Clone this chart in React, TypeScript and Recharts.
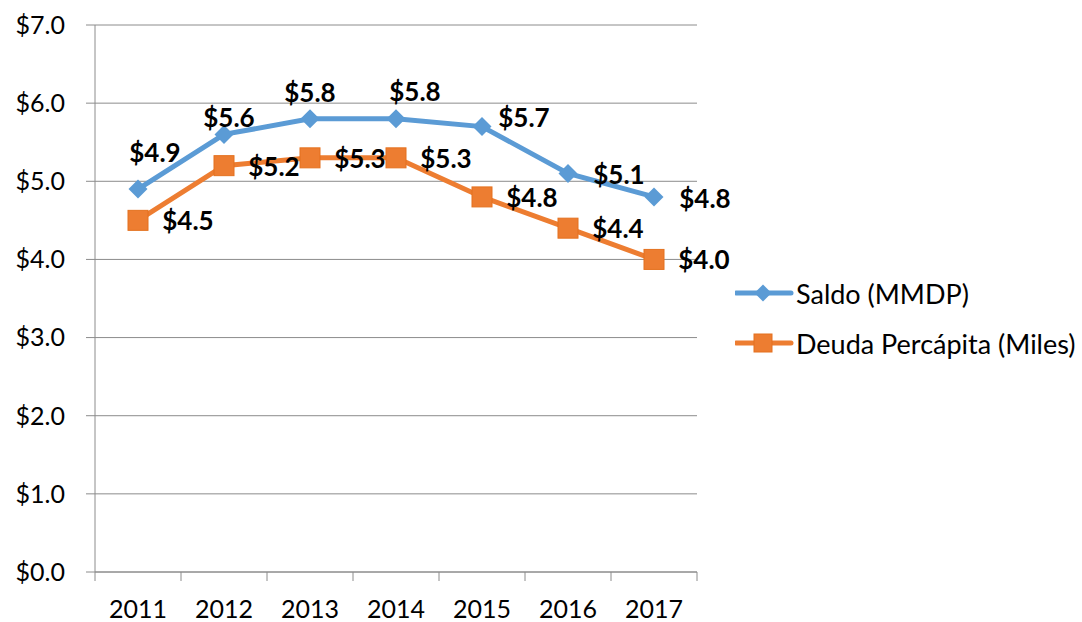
import React from 'react';
import { LineChart, Line, XAxis, YAxis, CartesianGrid, LabelList } from 'recharts';

const years = ['2011', '2012', '2013', '2014', '2015', '2016', '2017'];
const saldo = [4.9, 5.6, 5.8, 5.8, 5.7, 5.1, 4.8];
const deuda = [4.5, 5.2, 5.3, 5.3, 4.8, 4.4, 4.0];
const yTicks = [0, 1, 2, 3, 4, 5, 6, 7];

const seriesNames = { saldo: 'Saldo (MMDP)', deuda: 'Deuda Percápita (Miles)' };

const BLUE = '#5B9BD5';
const ORANGE = '#ED7D31';
const GRID = '#8C8C8C';
const FONT = 'Lato, "Open Sans", sans-serif';

const W = 1082;
const H = 622;
const M = { top: 25, right: 385, left: 0, bottom: 0 };
const Y_W = 95;
const X_H = 50;
const PLOT_BOTTOM = H - M.bottom - X_H;
const band = (W - M.left - Y_W - M.right) / years.length;

// label offsets from each point (label centre), hand placed like the original
const saldoLabelPos = [[17, -37], [5, -17], [0, -27], [19, -28], [42, -10], [51, 1], [51, 1]];
const deudaLabelPos = [50, 0];

const data = years.map((year, i) => ({ year, saldo: saldo[i], deuda: deuda[i] }));

const fmt = (v: number) => '$' + v.toFixed(1);

const Diamond = ({ cx, cy, r = 9.5 }: any) => {
  if (cx == null || cy == null) return null;
  return <polygon points={`${cx},${cy - r} ${cx + r},${cy} ${cx},${cy + r} ${cx - r},${cy}`} fill={BLUE} />;
};

const Square = ({ cx, cy, s = 10 }: any) => {
  if (cx == null || cy == null) return null;
  return <rect x={cx - s} y={cy - s} width={s * 2} height={s * 2} fill={ORANGE} stroke="#E4711F" strokeWidth={1} />;
};

// tick marks sit on the category boundaries, like the original
const XTick = ({ x, payload, index }: any) => (
  <g>
    <line x1={x - band / 2} x2={x - band / 2} y1={PLOT_BOTTOM} y2={PLOT_BOTTOM + 9} stroke={GRID} />
    {index === years.length - 1 && (
      <line x1={x + band / 2} x2={x + band / 2} y1={PLOT_BOTTOM} y2={PLOT_BOTTOM + 9} stroke={GRID} />
    )}
    <text x={x} y={PLOT_BOTTOM + 46} textAnchor="middle" fontSize={25} fontFamily={FONT} fill="#000">
      {payload.value}
    </text>
  </g>
);

const makeLabel = (pos: (i: number) => number[]) => (props: any) => {
  const { x, y, value, index } = props;
  const [dx, dy] = pos(index);
  return (
    <text x={x + dx} y={y + dy} textAnchor="middle" dominantBaseline="central" fontSize={26} fontWeight="bold" fontFamily={FONT} fill="#000">
      {fmt(value)}
    </text>
  );
};

const legendItems = [
  { name: seriesNames.saldo, color: BLUE, marker: 'd' },
  { name: seriesNames.deuda, color: ORANGE, marker: 's' },
];

const LegendBox = () => (
  <div style={{ position: 'absolute', left: 735, top: 268, fontFamily: FONT, fontSize: 27, color: '#000' }}>
    {legendItems.map((it) => (
      <div key={it.name} style={{ display: 'flex', alignItems: 'center', height: 50 }}>
        <svg width={61} height={30} style={{ display: 'block' }}>
          <line x1={1} x2={56} y1={15} y2={15} stroke={it.color} strokeWidth={5} strokeLinecap="round" />
          {it.marker === 'd' ? <Diamond cx={28} cy={15} r={8.5} /> : <Square cx={28} cy={15} s={9} />}
        </svg>
        <span style={{ whiteSpace: 'nowrap' }}>{it.name}</span>
      </div>
    ))}
  </div>
);

export default function App() {
  return (
    <div style={{ position: 'absolute', left: 0, top: 0, width: W, height: H, background: '#fff', fontFamily: FONT }}>
      <LineChart width={W} height={H} data={data} margin={M}>
        <CartesianGrid vertical={false} stroke={GRID} />
        <XAxis
          dataKey="year"
          scale="band"
          height={X_H}
          axisLine={{ stroke: GRID }}
          tickLine={false}
          tickSize={0}
          tickMargin={0}
          tick={<XTick />}
          interval={0}
        />
        <YAxis
          width={Y_W}
          domain={[0, 7]}
          ticks={yTicks}
          axisLine={{ stroke: GRID }}
          tickLine={{ stroke: GRID }}
          tickSize={9}
          tickMargin={21}
          tickFormatter={fmt}
          tick={{ fontSize: 25, fill: '#000', fontFamily: FONT }}
        />
        <Line
          dataKey="saldo"
          name={seriesNames.saldo}
          stroke={BLUE}
          strokeWidth={5}
          dot={(p: any) => <Diamond key={'s' + p.index} cx={p.cx} cy={p.cy} />}
          activeDot={false}
          isAnimationActive={false}
        >
          <LabelList dataKey="saldo" content={makeLabel((i) => saldoLabelPos[i])} />
        </Line>
        <Line
          dataKey="deuda"
          name={seriesNames.deuda}
          stroke={ORANGE}
          strokeWidth={5}
          dot={(p: any) => <Square key={'d' + p.index} cx={p.cx} cy={p.cy} />}
          activeDot={false}
          isAnimationActive={false}
        >
          <LabelList dataKey="deuda" content={makeLabel(() => deudaLabelPos)} />
        </Line>
      </LineChart>
      <LegendBox />
    </div>
  );
}
